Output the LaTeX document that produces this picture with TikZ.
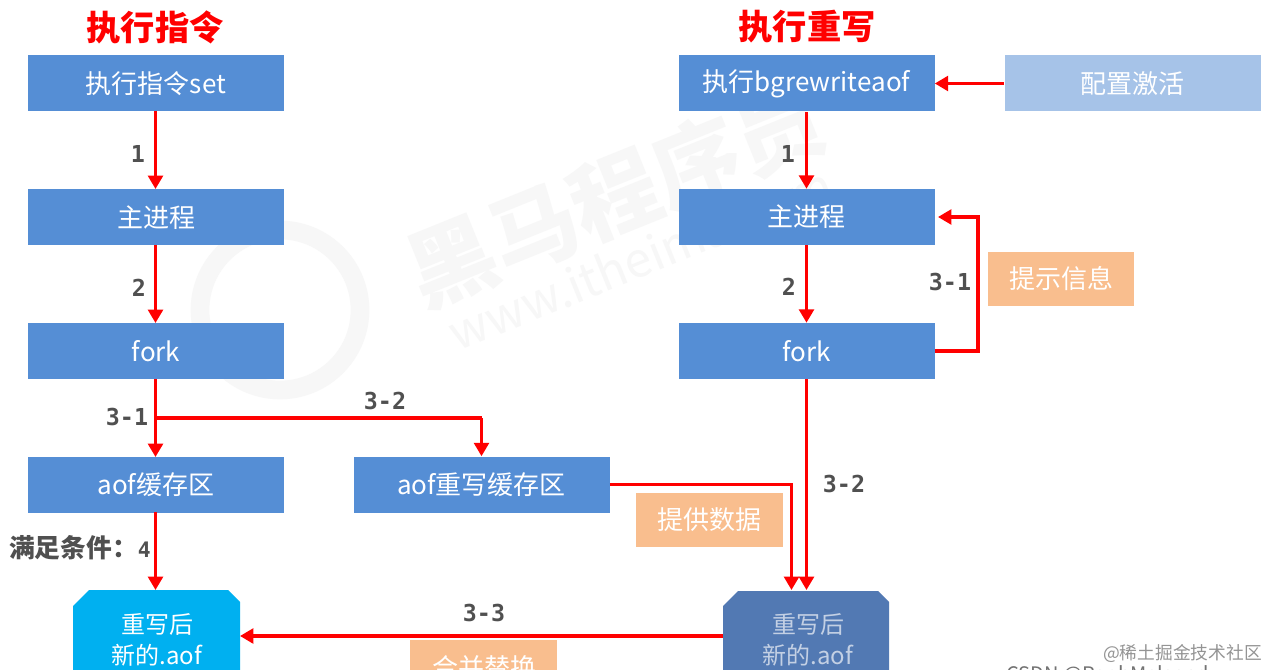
\documentclass[tikz,border=0pt]{standalone}
\usepackage{fontspec}
\setmainfont{Noto Sans CJK SC}
\newfontfamily\monof{DejaVu Sans Mono}
\usetikzlibrary{arrows.meta}
\definecolor{bluebox}{HTML}{558ED5}
\definecolor{lightbox}{HTML}{A6C3E8}
\definecolor{peach}{HTML}{F9BE8E}
\definecolor{cyanbox}{HTML}{00B0F0}
\definecolor{dimbox}{HTML}{5279B3}
\definecolor{lab}{HTML}{505050}
\tikzset{
  x=0.75pt,y=-0.75pt,
  procbox/.style={fill=bluebox,text=white,minimum width=192pt,minimum height=42pt,inner sep=0pt,font=\fontsize{19.5pt}{22pt}\selectfont},
  tipbox/.style={fill=peach,text=white,minimum width=110pt,minimum height=41pt,inner sep=0pt,font=\fontsize{19.5pt}{22pt}\selectfont},
  title/.style={text=red,font=\fontsize{25.7pt}{28pt}\selectfont\bfseries,inner sep=0pt},
  steplab/.style={text=lab,font=\monof\bfseries\fontsize{17.5pt}{19pt}\selectfont,inner sep=0pt},
  flow/.style={draw=red,line width=2.7pt,-{Triangle[length=10pt,width=11pt]}},
  plain/.style={draw=red,line width=2.7pt},
  filebox/.style={text=white,align=center,inner sep=0pt,font=\fontsize{18pt}{23pt}\selectfont},
  mark text/.style={text=black!3,inner sep=0pt}
}
\begin{document}
\begin{tikzpicture}
\useasboundingbox (0,0) rectangle (1268,670);
\fill[white] (0,0) rectangle (1268,670);
% watermark
\node[mark text,rotate=22,font=\fontsize{66pt}{70pt}\selectfont\bfseries] (wm1) at (615,195) {黑马程序员};
\node[mark text,rotate=22,font=\fontsize{36pt}{40pt}\selectfont] (wm2) at (640,258) {www.itheima.com};
\draw[black!3,line width=14pt] (280,310) circle (80);
% titles
\node[title] (t1) at (155,27) {执行指令};
\node[title] (t2) at (807,27) {执行重写};
% left column
\node[procbox] (a1) at (156,83.5) {执行指令set};
\node[procbox] (a2) at (156,217.5) {主进程};
\node[procbox] (a3) at (156,351) {fork};
\node[procbox] (a4) at (156,484.5) {aof缓存区};
\node[procbox] (a5) at (481.5,484.5) {aof重写缓存区};
% right column
\node[procbox] (b1) at (806.5,83.5) {执行bgrewriteaof};
\node[procbox,fill=lightbox] (b0) at (1132.5,83.5) {配置激活};
\node[procbox] (b2) at (806.5,217) {主进程};
\node[procbox] (b3) at (806.5,351) {fork};
% tips
\node[tipbox] (p1) at (1061,279) {提示信息};
\node[tipbox] (p2) at (709.5,520) {提供数据};
\fill[peach] (410,640) rectangle (557,670);
\begin{scope}
\clip (0,0) rectangle (1268,670);
\node[text=white,inner sep=0pt,font=\fontsize{19.5pt}{22pt}\selectfont] (p3) at (484,668) {合并替换};
% output files
\fill[cyanbox] (73,606) -- (89,590) -- (228,590) -- (240,602) -- (240,675) -- (73,675) -- cycle;
\fill[dimbox] (723,606) -- (738,591) -- (878,591) -- (889,602) -- (889,675) -- (723,675) -- cycle;
\coordinate (c1top) at (155.5,590);
\coordinate (c1r) at (240,636);
\coordinate (c2l) at (723,636);
\coordinate (c2ta) at (791.5,590);
\coordinate (c2tb) at (806.5,590);
\node[filebox] (f1) at (157,640) {重写后\\新的.aof};
\node[filebox,text=white!65!dimbox] (f2) at (808,640) {重写后\\新的.aof};
\node[text=black!42,inner sep=0pt,anchor=east,font=\fontsize{13.3pt}{16pt}\selectfont] (w1) at (1262,654) {@稀土掘金技术社区};
\node[text=black!55,inner sep=0pt,anchor=west,font=\fontsize{15pt}{17pt}\selectfont] (w2) at (1006,676) {CSDN @RaphMalsand};
\end{scope}
% connectors
\coordinate (s1) at (155.5,111);
\coordinate (s2) at (155.5,189);
\coordinate (s3) at (155.5,245);
\coordinate (s4) at (155.5,323);
\coordinate (s5) at (155.5,379);
\coordinate (s6) at (155.5,457);
\coordinate (s7) at (155.5,512);
\draw[flow] (s1) -- (s2);
\draw[flow] (s3) -- (s4);
\draw[flow] (s5) -- (s6);
\coordinate (j1) at (155.5,418);
\coordinate (j2) at (481.5,418);
\draw[plain] (j1) -- (j2);
\draw[flow] (j2) -- (a5);
\draw[flow] (s7) -- (c1top);
\draw[flow] (b0) -- (b1);
\draw[flow] (b1) -- (b2);
\draw[flow] (b2) -- (b3);
\coordinate (b2tip) at (938,217);
\draw[flow] (b3.east) -- ++(43,0) |- (b2tip);
\draw[flow] (b3) -- (c2tb);
\draw[flow] (a5.east) -| (c2ta);
\draw[flow] (c2l) -- (c1r);
% step labels
\node[steplab] (l1) at (138,154) {1};
\node[steplab] (l2) at (139,288) {2};
\node[steplab] (l3) at (127,417) {3-1};
\node[steplab] (l4) at (385,401) {3-2};
\node[steplab] (l5) at (788,154) {1};
\node[steplab] (l6) at (789,287) {2};
\node[steplab] (l7) at (950,282) {3-1};
\node[steplab] (l8) at (844,484) {3-2};
\node[steplab] (l9) at (484,613) {3-3};
\node[text=lab,inner sep=0pt,anchor=east,font=\fontsize{19.3pt}{21pt}\selectfont\bfseries] (l10) at (151,548) {满足条件：{\monof\fontsize{16pt}{18pt}\selectfont 4}};
\end{tikzpicture}
\end{document}
